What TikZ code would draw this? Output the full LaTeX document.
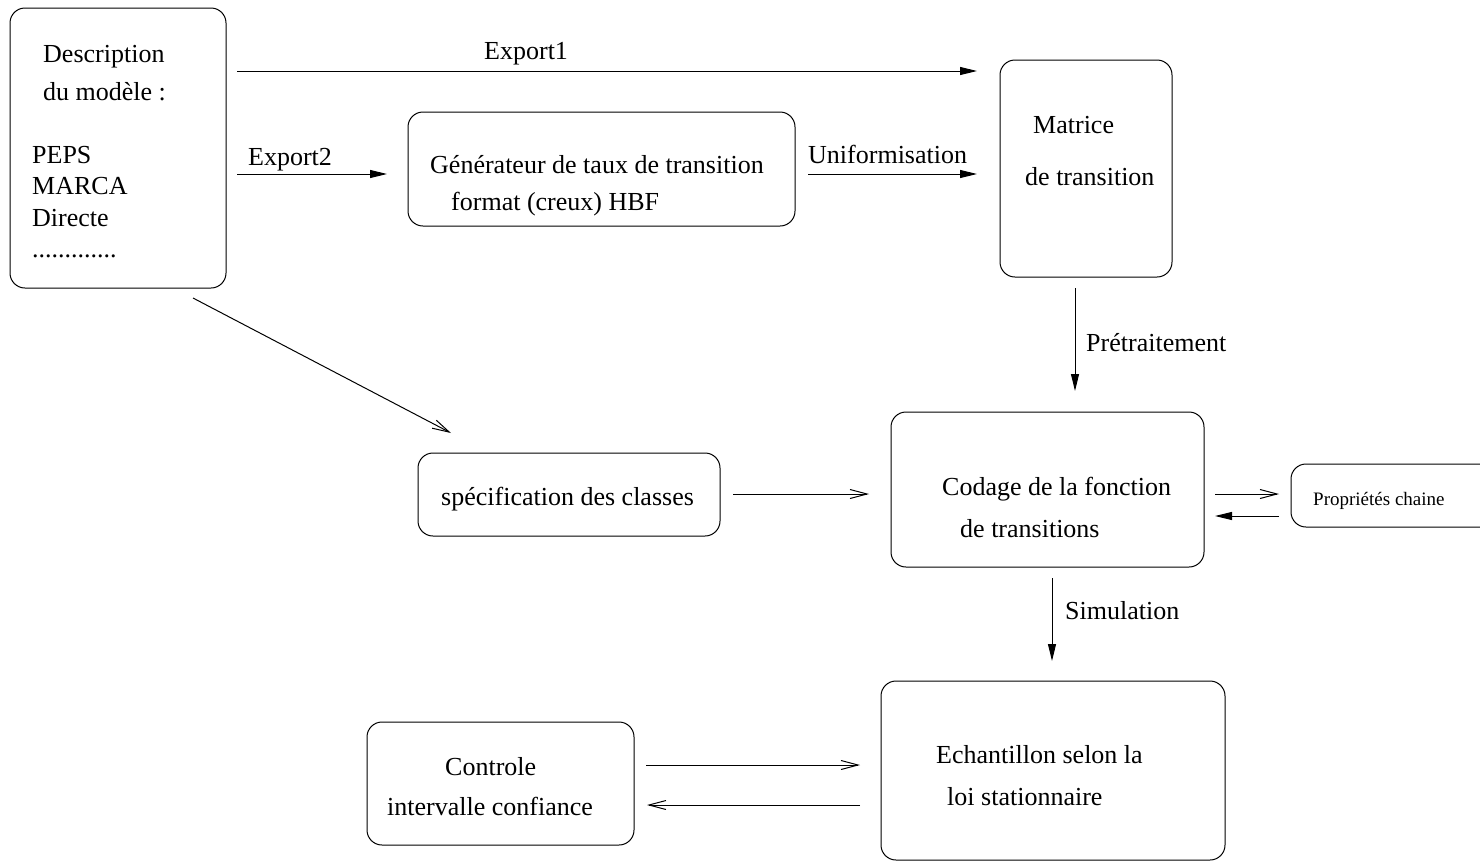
\documentclass[tikz,border=0pt]{standalone}
\usepackage{fontspec}
\setmainfont{Liberation Serif}
\usetikzlibrary{%
    arrows.meta,
    positioning
}
\newcommand{\pointilles}{.............}
\tikzset{boite/.style = {draw, line width=1pt, rounded corners=15pt, inner sep=0pt}}
\tikzset{texte/.style = {anchor=base west, inner sep=0pt}}
\tikzset{plein/.style = {line width=1pt, -{Triangle[length=17pt, width=8pt]}}}
\tikzset{ouvert/.style = {line width=1pt, -{Straight Barb[length=17pt, width=9pt]}}}

\begin{document}
\begin{tikzpicture}[x=1pt, y=-1pt, every node/.style={font=\fontsize{26}{31}\selectfont}]
    \useasboundingbox (0,0) rectangle (1480,863);

    % boites
    \node[boite, minimum width=216pt, minimum height=280pt] (desc) at (118,148) {};
    \node[boite, minimum width=387pt, minimum height=114pt] (gen)  at (601.5,169) {};
    \node[boite, minimum width=172pt, minimum height=217pt] (mat)  at (1086,168.5) {};
    \node[boite, minimum width=302pt, minimum height=83pt]  (spec) at (569,494.5) {};
    \node[boite, minimum width=313pt, minimum height=155pt] (cod)  at (1047.5,489.5) {};
    \node[boite, minimum width=209pt, minimum height=63pt]  (prop) at (1395.5,495.5) {};
    \node[boite, minimum width=267pt, minimum height=123pt] (ctrl) at (500.5,783.5) {};
    \node[boite, minimum width=344pt, minimum height=179pt] (ech)  at (1053,770.5) {};

    % textes
    \node[texte] (desc1) at (43,62)  {Description};
    \node[texte] (desc2) at (43,100) {du modèle :};
    \foreach \Ligne [count=\i from 0] in {PEPS, MARCA, Directe, \pointilles}
        \node[texte] (lst\i) at (32,{163+31.5*\i}) {\Ligne};
    \node[texte] (gen1) at (430,173) {Générateur de taux de transition};
    \node[texte] (gen2) at (451,210) {format (creux) HBF};
    \node[texte] (mat1) at (1033,133) {Matrice};
    \node[texte] (mat2) at (1025,185) {de transition};
    \node[texte] (spec1) at (441,505) {spécification des classes};
    \node[texte] (cod1) at (942,495) {Codage de la fonction};
    \node[texte] (cod2) at (960,537) {de transitions};
    \node[texte, font=\fontsize{19}{23}\selectfont] (prop1) at (1313,505) {Propriétés chaine};
    \node[texte] (ctrl1) at (445,775) {Controle};
    \node[texte] (ctrl2) at (387,815) {intervalle confiance};
    \node[texte] (ech1) at (936,763) {Echantillon selon la};
    \node[texte] (ech2) at (947,805) {loi stationnaire};

    % etiquettes des fleches
    \node[texte] (lexp1) at (484,59)   {Export1};
    \node[texte] (lexp2) at (248,165)  {Export2};
    \node[texte] (lunif) at (808,163)  {Uniformisation};
    \node[texte] (lpre)  at (1086,351) {Prétraitement};
    \node[texte] (lsim)  at (1065,619) {Simulation};

    % extremites des fleches
    \coordinate (e1a) at (237,71);    \coordinate (e1b) at (977,71);
    \coordinate (e2a) at (237,174);   \coordinate (e2b) at (387,174);
    \coordinate (una) at (808,174);   \coordinate (unb) at (977,174);
    \coordinate (pra) at (1075,288);  \coordinate (prb) at (1075,391);
    \coordinate (sia) at (1052,578);  \coordinate (sib) at (1052,661);
    \coordinate (pca) at (1279,516);  \coordinate (pcb) at (1215,516);
    \coordinate (dga) at (193,298);   \coordinate (dgb) at (451,433);
    \coordinate (sca) at (733,494);   \coordinate (scb) at (869,494);
    \coordinate (cpa) at (1215,494);  \coordinate (cpb) at (1279,494);
    \coordinate (cea) at (646,765);   \coordinate (ceb) at (860,765);
    \coordinate (eca) at (860,805);   \coordinate (ecb) at (647,805);

    \foreach \Source/\Target in {e1a/e1b, e2a/e2b, una/unb, pra/prb, sia/sib, pca/pcb}
        \draw[plein] (\Source) -- (\Target);
    \foreach \Source/\Target in {dga/dgb, sca/scb, cpa/cpb, cea/ceb, eca/ecb}
        \draw[ouvert] (\Source) -- (\Target);
\end{tikzpicture}
\end{document}
